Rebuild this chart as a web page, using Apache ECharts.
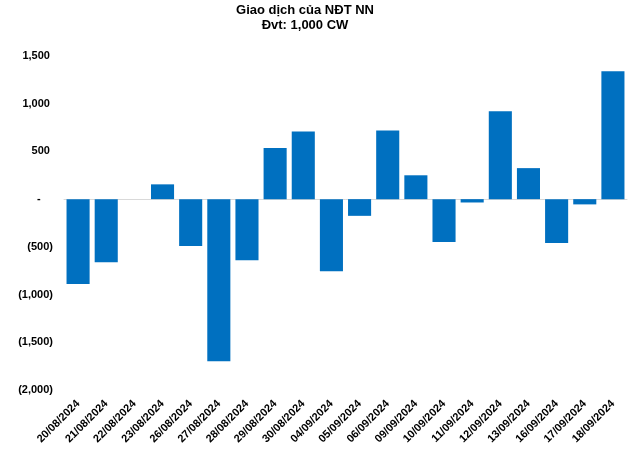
<!DOCTYPE html>
<html>
<head>
<meta charset="utf-8">
<script src="https://cdn.jsdelivr.net/npm/echarts@6/dist/echarts.min.js"></script>
<style>
html,body{margin:0;padding:0;background:#fff;}
#chart{width:640px;height:453px;}
</style>
</head>
<body>
<div id="chart"></div>
<script>
const categories = ['20/08/2024','21/08/2024','22/08/2024','23/08/2024','26/08/2024','27/08/2024','28/08/2024','29/08/2024','30/08/2024','04/09/2024','05/09/2024','06/09/2024','09/09/2024','10/09/2024','11/09/2024','12/09/2024','13/09/2024','16/09/2024','17/09/2024','18/09/2024'];
const values = [-890,-660,0,155,-490,-1700,-640,535,710,-755,-175,720,250,-450,-35,920,325,-460,-55,1340];
const titleLines = ['Giao dịch của NĐT NN','Đvt: 1,000 CW'];

function fmt(v){
  if (v === 0) return '-    ';
  const s = Math.abs(v).toLocaleString('en-US');
  return v < 0 ? '(' + s + ')' : s + ' ';
}

const chart = echarts.init(document.getElementById('chart'));
chart.setOption({
  animation: false,
  backgroundColor: '#ffffff',
  title: {
    text: titleLines.join('\n'),
    left: 303,
    textAlign: 'center',
    top: 1,
    padding: 2,
    textStyle: {fontFamily: 'Liberation Sans', fontWeight: 'bold', fontSize: 13, color: '#000', lineHeight: 15}
  },
  grid: {left: 64, right: 13, top: 56, bottom: 63, containLabel: false},
  xAxis: {
    type: 'category',
    data: categories,
    axisLine: {show: true, onZero: true, lineStyle: {color: '#d9d9d9', width: 1}},
    axisTick: {show: false},
    axisLabel: {
      interval: 0, rotate: 45, margin: 12,
      fontFamily: 'Liberation Sans', fontWeight: 'bold', fontSize: 11, color: '#000'
    },
    splitLine: {show: false}
  },
  yAxis: {
    type: 'value',
    min: -2000, max: 1500, interval: 500,
    axisLine: {show: false},
    axisTick: {show: false},
    splitLine: {show: false},
    axisLabel: {
      formatter: fmt, margin: 11,
      fontFamily: 'Liberation Sans', fontWeight: 'bold', fontSize: 11, color: '#000'
    }
  },
  series: [{
    type: 'bar',
    data: values,
    barCategoryGap: '18%',
    itemStyle: {color: '#0070C0'}
  }]
});
</script>
</body>
</html>
